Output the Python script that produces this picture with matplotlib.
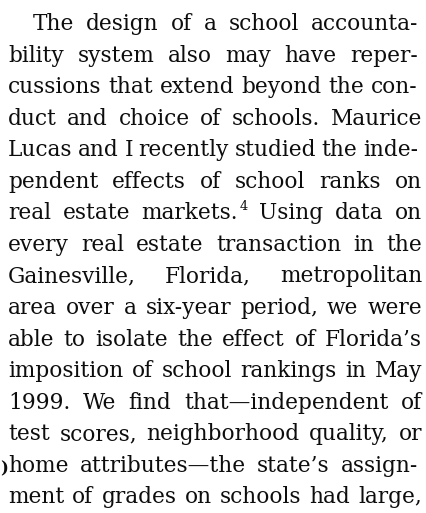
import matplotlib
matplotlib.use("Agg")
import matplotlib.pyplot as plt

# paragraph text, one entry per printed line ("^" marks a superscript)
lines = [
    "The design of a school accounta-",
    "bility system also may have reper-",
    "cussions that extend beyond the con-",
    "duct and choice of schools. Maurice",
    "Lucas and I recently studied the inde-",
    "pendent effects of school ranks on",
    "real estate markets.^4 Using data on",
    "every real estate transaction in the",
    "Gainesville, Florida, metropolitan",
    "area over a six-year period, we were",
    "able to isolate the effect of Florida\u2019s",
    "imposition of school rankings in May",
    "1999. We find that\u2014independent of",
    "test scores, neighborhood quality, or",
    "home attributes\u2014the state\u2019s assign-",
    "ment of grades on schools had large,",
]

W, H = 427, 513
left, right, right_hyph = 8, 422, 418
indent = 33
base0, leading = 30, 31.55
font = "DejaVu Serif"
fs = 21.6 * 72 / 100
ink = "#0d0d0d"

fig = plt.figure(figsize=(W / 100, H / 100), dpi=100)
fig.patch.set_facecolor("white")
ax = fig.add_axes([0, 0, 1, 1])
ax.set_xlim(0, W)
ax.set_ylim(H, 0)
ax.axis("off")
r = fig.canvas.get_renderer()


def text_w(s, size):
    t = ax.text(0, 0, s, fontsize=size, family=font)
    w = t.get_window_extent(r).width
    t.remove()
    return w


def word_parts(word):
    # split "markets.^4" into normal part and superscript
    if "^" in word:
        a, b = word.split("^")
        return a, b
    return word, ""


for i, line in enumerate(lines):
    y = base0 + i * leading
    x0 = left + (indent - left if i == 0 else 0)
    x1 = right_hyph if line.endswith("-") else right
    words = line.split(" ")
    widths = []
    for w in words:
        a, b = word_parts(w)
        widths.append(text_w(a, fs) + (text_w(b, fs * 0.6) + 1 if b else 0))
    gap = (x1 - x0 - sum(widths)) / max(len(words) - 1, 1)
    x = x0
    for w, ww in zip(words, widths):
        a, b = word_parts(w)
        ax.text(x, y, a, fontsize=fs, family=font, color=ink, va="baseline", ha="left")
        if b:
            ax.text(x + text_w(a, fs) + 1, y - 9, b, fontsize=fs * 0.6, family=font,
                    color=ink, va="baseline", ha="left")
        x += ww + gap

# binding mark at the left edge
ax.text(0, 473, ")", fontsize=fs * 0.75, family=font, weight="bold", color=ink,
        va="baseline", ha="left")

fig.savefig("out.png", dpi=100, facecolor="white")
